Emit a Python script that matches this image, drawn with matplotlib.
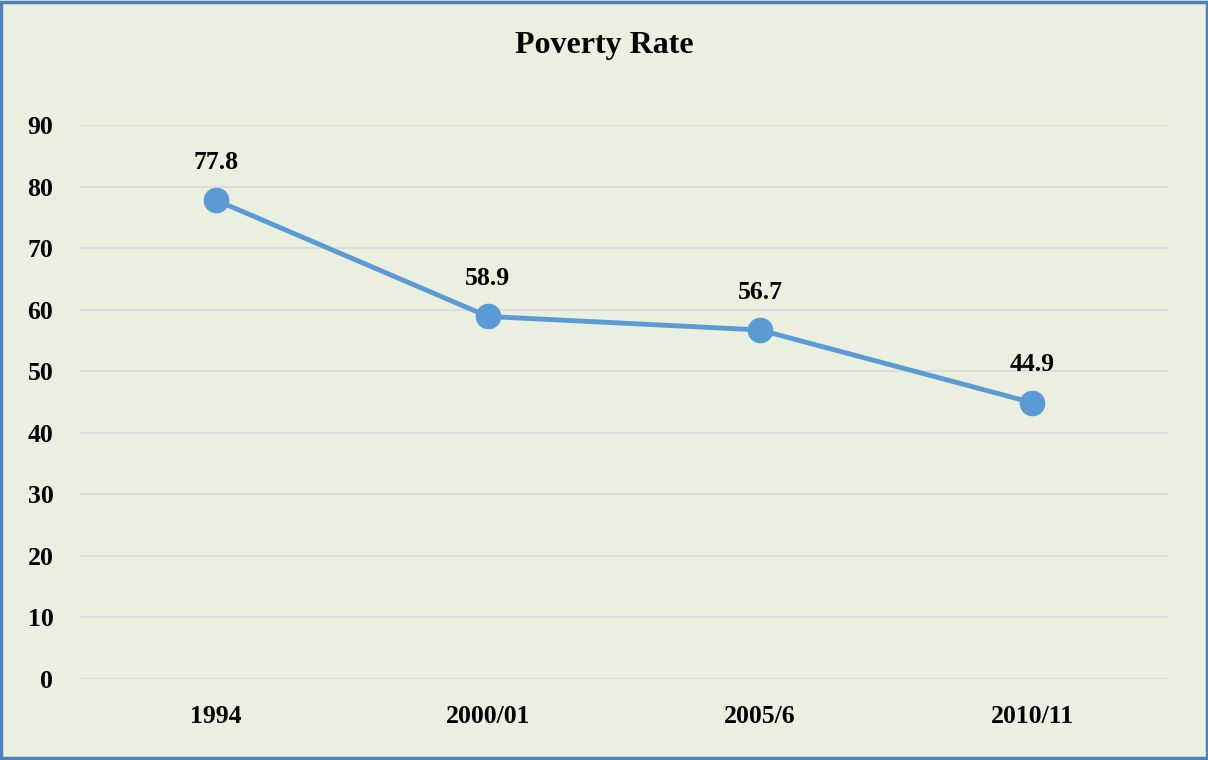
import matplotlib
matplotlib.use('Agg')
import matplotlib.pyplot as plt
from matplotlib.patches import Rectangle

# data
years = ['1994', '2000/01', '2005/6', '2010/11']
rate = [77.8, 58.9, 56.7, 44.9]
yticks = [0, 10, 20, 30, 40, 50, 60, 70, 80, 90]

bg = '#EBEFE0'
plt.rcParams['font.family'] = ['Liberation Serif', 'DejaVu Serif']
plt.rcParams['font.weight'] = 'bold'

fig = plt.figure(figsize=(12.08, 7.6), dpi=100, facecolor=bg)
ax = fig.add_axes([0.066, 0.1066, 0.901, 0.7289], facecolor=bg)

xs = [i + 0.5 for i in range(len(years))]
ax.plot(xs, rate, color='#5B9BD5', lw=3.5, marker='o', ms=17.5, zorder=3)
for x, v in zip(xs, rate):
    ax.annotate(f'{v}', (x, v), xytext=(0, 19), textcoords='offset points',
                ha='center', va='bottom', fontsize=18.5, fontweight='bold')

ax.set_xlim(0, 4)
ax.set_ylim(0, 90)
ax.set_xticks(xs)
ax.set_xticklabels(years, fontsize=18.5, fontweight='bold')
ax.set_yticks(yticks)
ax.set_yticklabels([str(t) for t in yticks], fontsize=18.5, fontweight='bold')
ax.tick_params(axis='x', length=0, pad=19)
ax.tick_params(axis='y', length=0, pad=19)
ax.grid(axis='y', color='#D9D9D9', lw=1.2)
ax.set_axisbelow(True)
for s in ax.spines.values():
    s.set_visible(False)

fig.text(0.5, 0.94, 'Poverty Rate', ha='center', va='center',
         fontsize=23, fontweight='bold')

# outer border
fig.patches.append(Rectangle((0.001, 0.002), 0.998, 0.996, transform=fig.transFigure,
                             fill=False, edgecolor='#4F81BD', lw=2.5))

plt.savefig('out.png', dpi=100, facecolor=bg)
